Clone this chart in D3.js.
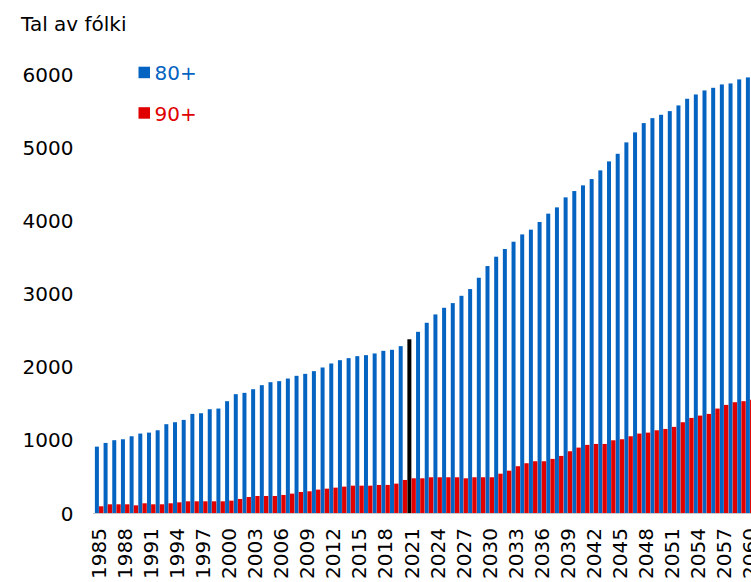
<!DOCTYPE html>
<html>
<head>
<meta charset="utf-8">
<script src="https://cdn.jsdelivr.net/npm/d3@7"></script>
<style>
html,body{margin:0;padding:0;background:#fff;overflow:hidden;}
svg{display:block;font-family:"DejaVu Sans",Verdana,sans-serif;}
</style>
</head>
<body>
<svg id="chart" width="751" height="582"></svg>
<script>
const years = d3.range(1985, 2061);
const highlightYear = 2021;
const yTicks = [0, 1000, 2000, 3000, 4000, 5000, 6000];
const seriesNames = ["80+", "90+"];
const seriesColors = ["#0563C1", "#E00000"];
const highlightColor = "#000000";

const values80 = [
  908, 959, 996, 1009, 1050, 1087, 1100, 1132, 1215, 1242,
  1274, 1356, 1365, 1420, 1429, 1530, 1626, 1644, 1694, 1749,
  1790, 1804, 1840, 1877, 1904, 1941, 1991, 2046, 2091, 2119,
  2146, 2160, 2183, 2219, 2233, 2283, 2377, 2479, 2603, 2717,
  2808, 2872, 2972, 3064, 3219, 3379, 3507, 3612, 3712, 3812,
  3877, 3982, 4096, 4182, 4319, 4405, 4483, 4569, 4688, 4811,
  4915, 5071, 5208, 5335, 5403, 5449, 5499, 5577, 5668, 5727,
  5782, 5818, 5864, 5878, 5933, 5960
];
const values90 = [
  92, 119, 119, 119, 105, 133, 119, 119, 133, 146,
  160, 160, 160, 160, 160, 169, 192, 219, 233, 233,
  233, 247, 265, 288, 297, 320, 333, 347, 361, 374,
  374, 374, 384, 384, 402, 452, 475, 475, 489, 489,
  489, 489, 475, 489, 489, 489, 538, 579, 640, 681,
  708, 708, 740, 781, 845, 895, 932, 945, 945, 995,
  1009, 1050, 1087, 1100, 1132, 1150, 1178, 1242, 1301, 1333,
  1356, 1429, 1479, 1516, 1530, 1550
];

const svg = d3.select("#chart");
const W = 751, H = 582;
const x = d3.scaleBand().domain(years).range([94.7, 94.7 + 76 * 8.68]).padding(0);
const y = d3.scaleLinear().domain([0, 6000]).range([513, 74.5]);
const half = x.bandwidth() / 2;

// baseline
svg.append("line")
  .attr("x1", 93).attr("x2", W)
  .attr("y1", y(0) + 0.5).attr("y2", y(0) + 0.5)
  .attr("stroke", "#c8c8c8").attr("stroke-width", 1.2);

// 80+ bars
svg.append("g").selectAll("rect")
  .data(years.map((yr, i) => ({yr, v: values80[i]})))
  .join("rect")
  .attr("x", d => x(d.yr) + 0.2)
  .attr("width", half - 0.35)
  .attr("y", d => y(d.v))
  .attr("height", d => y(0) - y(d.v))
  .attr("fill", d => d.yr === highlightYear ? highlightColor : seriesColors[0]);

// 90+ bars
svg.append("g").selectAll("rect")
  .data(years.map((yr, i) => ({yr, v: values90[i]})))
  .join("rect")
  .attr("x", d => x(d.yr) + half)
  .attr("width", half)
  .attr("y", d => y(d.v))
  .attr("height", d => y(0) - y(d.v))
  .attr("fill", seriesColors[1]);

// y axis
const yAxis = d3.axisLeft(y).tickValues(yTicks).tickSize(0).tickPadding(0).tickFormat(d3.format("d"));
const gy = svg.append("g").attr("transform", "translate(73.5,0)").call(yAxis);
gy.select(".domain").remove();
gy.selectAll("text").attr("font-size", 20).attr("fill", "#000")
  .attr("font-family", "DejaVu Sans, Verdana, sans-serif").attr("dy", "0.35em");

// x axis
const labelYears = years.filter(yr => (yr - 1985) % 3 === 0);
const xAxis = d3.axisBottom(x).tickValues(labelYears).tickSize(0).tickPadding(0);
const gx = svg.append("g").attr("transform", "translate(0,528)").call(xAxis);
gx.select(".domain").remove();
gx.selectAll("text")
  .attr("font-size", 20).attr("fill", "#000")
  .attr("font-family", "DejaVu Sans, Verdana, sans-serif")
  .attr("text-anchor", "end")
  .attr("transform", "rotate(-90)")
  .attr("x", 0).attr("y", 0).attr("dy", "0.35em");

// title
svg.append("text").attr("x", 21).attr("y", 30.5)
  .attr("font-size", 20).attr("fill", "#000").text("Tal av fólki");

// legend
const legend = svg.append("g");
seriesNames.forEach((name, i) => {
  const ly = 72.5 + i * 40.5;
  legend.append("rect").attr("x", 138.5).attr("y", ly - 5.8).attr("width", 11.5).attr("height", 11.5)
    .attr("fill", seriesColors[i]);
  legend.append("text").attr("x", 154.5).attr("y", ly + 7.5)
    .attr("font-size", 20).attr("fill", seriesColors[i]).text(name);
});
</script>
</body>
</html>
